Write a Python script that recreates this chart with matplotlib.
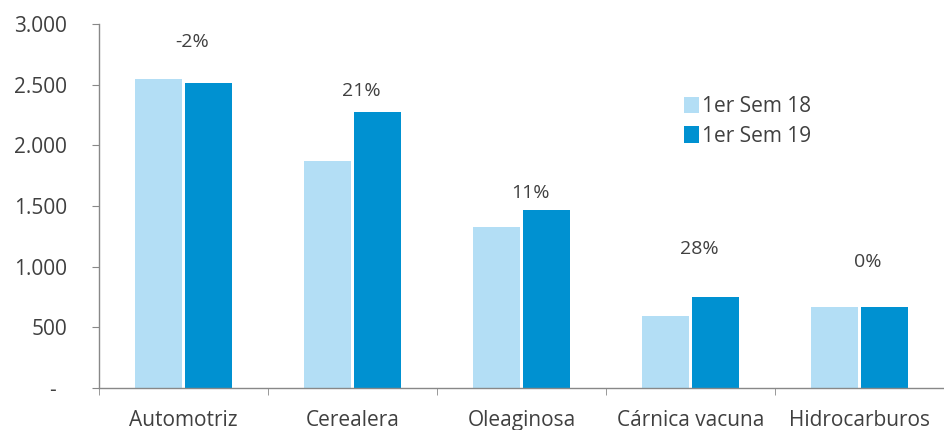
import matplotlib
matplotlib.use("Agg")
import matplotlib.pyplot as plt
import numpy as np

categories = ["Automotriz", "Cerealera", "Oleaginosa", "Cárnica vacuna", "Hidrocarburos"]
sem18 = [2547, 1871, 1327, 596, 665]
sem19 = [2511, 2275, 1467, 752, 668]
pct_labels = ["-2%", "21%", "11%", "28%", "0%"]
label_y = [2852, 2451, 1610, 1146, 1039]
series_names = ["1er Sem 18", "1er Sem 19"]
yticks = [0, 500, 1000, 1500, 2000, 2500, 3000]
ytick_labels = ["-  ", "500", "1.000", "1.500", "2.000", "2.500", "3.000"]

plt.rcParams['font.family'] = ['Open Sans', 'DejaVu Sans']
txt = '#404040'
c_light = '#b3def5'
c_dark = '#0091d1'
fs = 15

fig = plt.figure(figsize=(9.44, 4.30), dpi=100)
ax = fig.add_axes([0.105, 0.098, 0.895, 0.846])

x = np.arange(len(categories))
w = 0.28
gap = 0.009
ax.bar(x - w/2 - gap, sem18, width=w, color=c_light, label=series_names[0])
ax.bar(x + w/2 + gap, sem19, width=w, color=c_dark, label=series_names[1])

for xi, lab, ly in zip(x, pct_labels, label_y):
    ax.text(xi + 0.05, ly, lab, ha='center', va='center', fontsize=14, color=txt)

ax.set_xlim(-0.5, 4.5)
ax.set_ylim(0, 3000)
ax.set_yticks(yticks)
ax.set_yticklabels(ytick_labels, fontsize=fs, color=txt)
ax.set_xticks(x)
ax.set_xticklabels(categories, fontsize=fs, color=txt)
ax.tick_params(axis='x', length=0, pad=16)
ax.set_xticks(np.arange(-0.5, 4.6, 1.0), minor=True)
ax.tick_params(axis='x', which='minor', length=5, color='#888888', direction='out')
ax.tick_params(axis='y', length=5, color='#888888', pad=18)

for s in ['top', 'right']:
    ax.spines[s].set_visible(False)
for s in ['left', 'bottom']:
    ax.spines[s].set_color('#888888')
    ax.spines[s].set_linewidth(1.0)

leg = ax.legend(loc='upper left', bbox_to_anchor=(0.68, 0.83), frameon=False,
                fontsize=fs, handlelength=0.7, handleheight=0.85, handletextpad=0.15,
                labelspacing=0.4, labelcolor=txt, borderpad=0)

fig.savefig("out.png", dpi=100, facecolor='white')
